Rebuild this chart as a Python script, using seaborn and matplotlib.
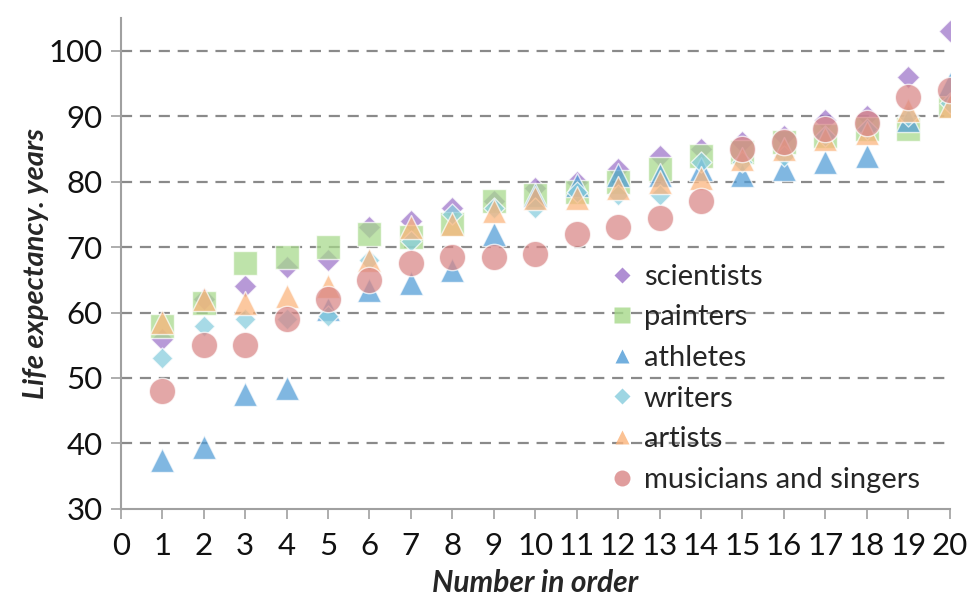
import matplotlib
matplotlib.use("Agg")
import matplotlib.pyplot as plt
from matplotlib.lines import Line2D
import seaborn as sns
import pandas as pd

order = list(range(1, 21))
scientists = [56, 62, 64, 67, 68, 73, 74, 76, 77, 79, 80, 82, 84, 85, 86, 87, 89.5, 90, 96, 103]
painters = [58, 61.5, 67.5, 68.5, 70, 72, 71.5, 73.5, 77, 78, 78.5, 80, 82, 84, 84.5, 86, 87, 88, 88, 91.5]
athletes = [37.5, 39.5, 47.5, 48.5, 60.5, 63.5, 64.5, 66.5, 72, 78, 79.5, 81, 81, 82, 81, 82, 83, 84, 89.5, 95]
writers = [53, 58, 59, 59, 59.5, 68, 71, 75, 76, 76, 78.5, 78, 78, 83, 83, 84, 87, 88, 90, 92]
artists = [58.5, 62, 61.5, 62.5, 64, 68, 73, 73.5, 75.5, 77.5, 77.5, 79, 80, 80.5, 83.5, 85, 86.5, 87.5, 91, 91.5]
musicians = [48, 55, 55, 59, 62, 65, 67.5, 68.5, 68.5, 69, 72, 73, 74.5, 77, 85, 86, 88, 89, 93, 94]

series_names = ["scientists", "painters", "athletes", "writers", "artists", "musicians and singers"]
series_values = [scientists, painters, athletes, writers, artists, musicians]

colors = ["#9B72C8", "#A6D98A", "#4F9BD6", "#86CCDD", "#FBB37A", "#D98585"]
markers = ["D", "s", "^", "D", "^", "o"]
sizes = [135, 310, 300, 115, 300, 360]
leg_sizes = [8.5, 11.5, 10, 8, 10, 11.5]

sns.set_theme(style="white")
plt.rcParams["font.family"] = ["Lato", "DejaVu Sans"]

fig = plt.figure(figsize=(9.67, 6.05), dpi=100)
ax = fig.add_axes([0.125, 0.159, 0.857, 0.811])

for name, vals, c, m, s in zip(series_names, series_values, colors, markers, sizes):
    df = pd.DataFrame({"x": order, "y": vals})
    sns.scatterplot(data=df, x="x", y="y", ax=ax, marker=m, color=c, s=s,
                    alpha=0.72, edgecolor="white", linewidth=1.0, legend=False, zorder=3)

ax.set_xlim(0, 20)
ax.set_ylim(30, 105)
ax.set_xticks(range(0, 21))
ax.set_yticks(range(30, 101, 10))
ax.set_xticklabels([str(i) for i in range(0, 21)])
for yv in range(40, 101, 10):
    ax.axhline(yv, color="#8a8a8a", lw=1.6, ls=(0, (5, 3.5)), zorder=1)

for side in ["top", "right"]:
    ax.spines[side].set_visible(False)
for side in ["left", "bottom"]:
    ax.spines[side].set_color("#a0a0a0")
    ax.spines[side].set_linewidth(1.5)
ax.spines["bottom"].set_zorder(4)

ax.tick_params(axis="both", which="both", direction="out", length=7, width=1.2,
               color="#a0a0a0", labelsize=22.5, labelcolor="#111111", bottom=True, left=True)
ax.tick_params(axis="x", pad=10)
ax.tick_params(axis="y", pad=6)

ax.set_xlabel("Number in order", fontsize=21.5, fontweight="bold", fontstyle="italic", labelpad=6)
ax.set_ylabel("Life expectancy. years", fontsize=21, fontweight="bold", fontstyle="italic", labelpad=0)

handles = [Line2D([0], [0], marker=m, color="none", markerfacecolor=c, markeredgecolor="none",
                  markersize=ms, alpha=0.8, label=n)
           for n, c, m, ms in zip(series_names, colors, markers, leg_sizes)]
fig.legend(handles=handles, loc="upper left", bbox_to_anchor=(0.616, 0.588), frameon=False,
           fontsize=21, handlelength=0.8, handletextpad=0.35, labelspacing=0.5, borderpad=0)

fig.savefig("out.png", dpi=100)
